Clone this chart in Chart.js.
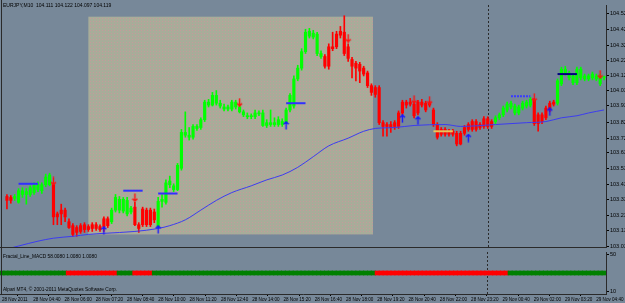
<!DOCTYPE html>
<html>
<head>
<meta charset="utf-8">
<script src="https://cdn.jsdelivr.net/npm/chart.js@4.4.1/dist/chart.umd.min.js"></script>
<style>
  html, body { margin: 0; padding: 0; background: #778899; }
  #wrap { position: relative; width: 625px; height: 303px; overflow: hidden; }
  canvas { position: absolute; left: 0; }
  #priceChart { top: 0; }
  #macdChart { top: 252px; }
</style>
</head>
<body>
<div id="wrap">
  <canvas id="priceChart" width="625" height="252"></canvas>
  <canvas id="macdChart" width="625" height="51"></canvas>
</div>
<script>
// EURJPY M10, 28 Nov 2011 03:20 -> 29 Nov 2011 05:00
const symbolTitle = 'EURJPY,M10  104.111 104.122 104.097 104.119';
const macdTitle = 'Fractal_Line_MACD 58.0080 1.0080 1.0080';
const copyright = 'Alpari MT4, \u00a9 2001-2011 MetaQuotes Software Corp.';

const timeTicks = ['28 Nov 2011', '28 Nov 04:40', '28 Nov 06:00', '28 Nov 07:20', '28 Nov 08:40',
  '28 Nov 10:00', '28 Nov 11:20', '28 Nov 12:40', '28 Nov 14:00', '28 Nov 15:20', '28 Nov 16:40',
  '28 Nov 18:00', '28 Nov 19:20', '28 Nov 20:40', '28 Nov 22:00', '28 Nov 23:20', '29 Nov 00:40',
  '29 Nov 02:00', '29 Nov 03:20', '29 Nov 04:40'];
const priceTicks = [104.520, 104.420, 104.320, 104.220, 104.125, 104.030, 103.935, 103.825,
  103.725, 103.635, 103.530, 103.430, 103.335, 103.230, 103.135, 103.035];
const macdTicks = [50, 10];

const openPrices = [
  103.354, 103.348, 103.342, 103.317, 103.367, 103.367, 103.367, 103.379, 103.398, 103.391,
  103.429, 103.429, 103.429, 103.243, 103.267, 103.267, 103.193, 103.168, 103.156, 103.168,
  103.174, 103.162, 103.174, 103.174, 103.162, 103.212, 103.212, 103.193, 103.267, 103.267,
  103.261, 103.243, 103.255, 103.286, 103.174, 103.274, 103.267, 103.267, 103.255, 103.162,
  103.323, 103.317, 103.429, 103.398, 103.398, 103.534, 103.745, 103.732, 103.732, 103.788,
  103.794, 103.844, 103.937, 103.937, 103.949, 103.931, 103.912, 103.912, 103.912, 103.925,
  103.894, 103.875, 103.863, 103.863, 103.863, 103.881, 103.807, 103.807, 103.813, 103.813,
  103.813, 103.813, 103.825, 103.906, 103.931, 104.104, 104.173, 104.278, 104.377, 104.371,
  104.266, 104.247, 104.247, 104.309, 104.309, 104.390, 104.408, 104.402, 104.309, 104.228,
  104.204, 104.197, 104.173, 104.142, 104.061, 104.049, 104.049, 103.825, 103.813, 103.813,
  103.825, 103.887, 103.956, 103.956, 103.956, 103.943, 103.956, 103.956, 103.949, 103.949,
  103.906, 103.813, 103.782, 103.782, 103.770, 103.770, 103.757, 103.757, 103.794, 103.813,
  103.832, 103.832, 103.813, 103.850, 103.850, 103.832, 103.832, 103.856, 103.875, 103.906,
  103.925, 103.887, 103.887, 103.918, 103.931, 103.937, 103.968, 103.875, 103.875, 103.918,
  103.949, 103.956, 103.949, 104.073, 104.142, 104.111, 104.080, 104.080, 104.111, 104.104,
  104.104, 104.111, 104.104, 104.073, 104.111];
const highPrices = [
  103.367, 103.360, 103.367, 103.404, 103.410, 103.404, 103.422, 103.441, 103.447, 103.441,
  103.497, 103.503, 103.441, 103.255, 103.305, 103.280, 103.212, 103.181, 103.168, 103.181,
  103.187, 103.174, 103.187, 103.187, 103.174, 103.224, 103.224, 103.280, 103.367, 103.354,
  103.348, 103.348, 103.292, 103.317, 103.187, 103.286, 103.280, 103.280, 103.274, 103.348,
  103.367, 103.460, 103.484, 103.435, 103.565, 103.782, 103.894, 103.794, 103.813, 103.813,
  103.856, 103.968, 103.974, 104.018, 104.030, 103.968, 103.943, 103.937, 103.968, 103.968,
  103.943, 103.906, 103.887, 103.881, 103.906, 103.900, 103.906, 103.844, 103.906, 103.856,
  103.863, 103.850, 103.918, 104.011, 104.123, 104.191, 104.297, 104.421, 104.427, 104.414,
  104.402, 104.284, 104.259, 104.328, 104.402, 104.408, 104.439, 104.507, 104.328, 104.241,
  104.216, 104.210, 104.185, 104.154, 104.073, 104.061, 104.061, 103.838, 103.825, 103.832,
  103.838, 103.900, 103.968, 103.968, 103.980, 103.956, 103.968, 103.974, 103.962, 103.962,
  103.918, 103.825, 103.794, 103.794, 103.782, 103.782, 103.770, 103.770, 103.807, 103.825,
  103.844, 103.844, 103.825, 103.863, 103.863, 103.844, 103.869, 103.887, 103.931, 103.956,
  103.962, 103.943, 103.937, 103.962, 103.968, 103.987, 103.980, 103.887, 103.887, 103.931,
  103.962, 103.968, 104.104, 104.179, 104.185, 104.154, 104.135, 104.179, 104.179, 104.135,
  104.135, 104.148, 104.135, 104.135, 104.122];
const lowPrices = [
  103.274, 103.311, 103.329, 103.311, 103.348, 103.305, 103.354, 103.367, 103.385, 103.373,
  103.416, 103.422, 103.174, 103.174, 103.174, 103.193, 103.150, 103.100, 103.100, 103.119,
  103.125, 103.131, 103.131, 103.137, 103.131, 103.131, 103.156, 103.181, 103.255, 103.249,
  103.249, 103.230, 103.243, 103.168, 103.125, 103.162, 103.162, 103.162, 103.187, 103.156,
  103.286, 103.305, 103.410, 103.385, 103.391, 103.522, 103.732, 103.714, 103.720, 103.776,
  103.782, 103.832, 103.925, 103.931, 103.937, 103.918, 103.900, 103.900, 103.900, 103.912,
  103.887, 103.863, 103.850, 103.850, 103.850, 103.869, 103.801, 103.794, 103.801, 103.801,
  103.801, 103.801, 103.819, 103.894, 103.918, 104.092, 104.160, 104.266, 104.365, 104.359,
  104.253, 104.235, 104.173, 104.166, 104.284, 104.297, 104.365, 104.253, 104.216, 104.111,
  104.092, 104.080, 104.123, 104.049, 103.999, 103.987, 103.813, 103.739, 103.739, 103.763,
  103.782, 103.788, 103.875, 103.918, 103.931, 103.856, 103.875, 103.925, 103.894, 103.925,
  103.801, 103.720, 103.739, 103.739, 103.739, 103.739, 103.677, 103.683, 103.745, 103.770,
  103.770, 103.770, 103.782, 103.788, 103.788, 103.788, 103.819, 103.844, 103.863, 103.894,
  103.912, 103.875, 103.875, 103.906, 103.918, 103.925, 103.807, 103.770, 103.819, 103.844,
  103.894, 103.931, 103.937, 104.061, 104.129, 104.098, 104.067, 104.067, 104.098, 104.092,
  104.092, 104.098, 104.092, 104.061, 104.097];
const closePrices = [
  103.329, 103.329, 103.354, 103.391, 103.391, 103.385, 103.410, 103.429, 103.429, 103.429,
  103.478, 103.491, 103.224, 103.224, 103.243, 103.224, 103.156, 103.112, 103.125, 103.131,
  103.143, 103.143, 103.150, 103.150, 103.143, 103.162, 103.168, 103.267, 103.348, 103.336,
  103.336, 103.329, 103.280, 103.174, 103.150, 103.174, 103.174, 103.174, 103.205, 103.323,
  103.336, 103.441, 103.453, 103.422, 103.553, 103.763, 103.763, 103.745, 103.801, 103.801,
  103.844, 103.956, 103.956, 103.999, 103.999, 103.949, 103.925, 103.925, 103.956, 103.956,
  103.925, 103.894, 103.869, 103.869, 103.887, 103.887, 103.887, 103.825, 103.825, 103.825,
  103.844, 103.832, 103.906, 103.999, 104.104, 104.173, 104.278, 104.402, 104.408, 104.396,
  104.390, 104.266, 104.185, 104.185, 104.297, 104.309, 104.383, 104.266, 104.235, 104.185,
  104.173, 104.154, 104.135, 104.061, 104.018, 104.005, 103.825, 103.801, 103.801, 103.794,
  103.801, 103.801, 103.887, 103.937, 103.943, 103.869, 103.887, 103.937, 103.906, 103.937,
  103.813, 103.732, 103.751, 103.751, 103.751, 103.751, 103.689, 103.689, 103.757, 103.782,
  103.782, 103.782, 103.794, 103.801, 103.801, 103.801, 103.856, 103.875, 103.918, 103.943,
  103.949, 103.931, 103.925, 103.949, 103.956, 103.974, 103.819, 103.819, 103.832, 103.856,
  103.906, 103.943, 104.092, 104.166, 104.166, 104.142, 104.123, 104.166, 104.166, 104.123,
  104.123, 104.135, 104.123, 104.123, 104.119];

// moving average read at [bar, price]
const maPoints = [[0, 103.019], [3, 103.038], [8, 103.069], [12, 103.088], [17, 103.100],
  [21, 103.112], [25, 103.119], [33, 103.131], [39, 103.150], [42, 103.168], [46, 103.205],
  [50, 103.267], [54, 103.329], [58, 103.379], [63, 103.422], [67, 103.460], [71, 103.491],
  [75, 103.540], [79, 103.608], [83, 103.677], [88, 103.726], [92, 103.770], [95, 103.788],
  [100, 103.794], [105, 103.807], [113, 103.813], [117, 103.801], [126, 103.813],
  [134, 103.825], [139, 103.832], [143, 103.856], [147, 103.869], [150, 103.887], [154, 103.906]];

// fractal levels: [from bar, to bar, price]
const fractalLevels = [[3, 8, 103.435], [30, 35, 103.391], [39, 44, 103.373], [72, 77, 103.949],
  [110, 115, 103.770], [130, 135, 103.993], [142, 147, 104.135]];
const fractalColors = ['#3030ff', '#3030ff', '#3030ff', '#3030ff', '#e8c45a', '#3a3aff', '#000080'];

const downArrows = [[12, 103.453], [33, 103.348], [60, 103.956], [88, 104.365], [105, 103.974],
  [109, 103.968], [136, 103.987], [153, 104.135]];
const upArrows = [[25, 103.137], [39, 103.143], [72, 103.807], [102, 103.850], [106, 103.838],
  [119, 103.726], [140, 103.894]];

// shaded rectangle object: bars and prices
const boxBars = [21, 94.4];
const boxPrices = [104.501, 103.112];

const separatorBar = 124;

// MACD state runs: [first bar, last bar, 1 = green / -1 = red]
const macdRuns = [[0, 16, 1], [17, 29, -1], [30, 33, 1], [34, 38, -1], [39, 95, 1], [96, 129, -1], [130, 154, 1]];
const macdBand = [27.8, 32.2];

const BG = '#778899';
const FONT = '"Liberation Sans", Arial, sans-serif';

const barIndex = openPrices.map((_, i) => i);
const candleColor = openPrices.map((o, i) => closePrices[i] >= o ? '#00ff00' : '#ff0000');
const macdColor = [];
macdRuns.forEach(([a, b, s]) => { for (let i = a; i <= b; i++) macdColor[i] = s > 0 ? '#008000' : '#ff0000'; });

function arrowGlyph(color, up) {
  const c = document.createElement('canvas');
  c.width = 7; c.height = 9;
  const g = c.getContext('2d');
  g.strokeStyle = color;
  g.lineWidth = 1.4;
  g.beginPath();
  g.moveTo(3.5, 0.5); g.lineTo(3.5, 8.5);
  if (up) { g.moveTo(1, 3.2); g.lineTo(3.5, 0.8); g.lineTo(6, 3.2); }
  else { g.moveTo(1, 5.8); g.lineTo(3.5, 8.2); g.lineTo(6, 5.8); }
  g.stroke();
  return c;
}

function boxPattern(ctx) {
  const c = document.createElement('canvas');
  c.width = 3; c.height = 3;
  const g = c.getContext('2d');
  g.fillStyle = '#a8ac99';
  g.fillRect(0, 0, 3, 3);
  g.fillStyle = '#c6999b';
  g.fillRect(0, 0, 1, 1);
  return ctx.createPattern(c, 'repeat');
}

function separator(chart) {
  const { ctx, chartArea, scales } = chart;
  const x = Math.round(scales.x.getPixelForValue(separatorBar)) + 0.5;
  ctx.save();
  ctx.strokeStyle = '#2a2a2a';
  ctx.lineWidth = 1;
  ctx.setLineDash([2, 2]);
  ctx.beginPath();
  ctx.moveTo(x, chartArea.top);
  ctx.lineTo(x, chartArea.bottom);
  ctx.stroke();
  ctx.restore();
}

// keep the plot area edge to edge: no extra room for the end labels
function noLabelPadding(s) {
  s.paddingTop = 0;
  s.paddingBottom = 0;
  s.paddingLeft = 0;
  s.paddingRight = 0;
}

const pricePanel = {
  id: 'pricePanel',
  beforeDraw(chart) {
    const ctx = chart.ctx;
    ctx.save();
    ctx.fillStyle = BG;
    ctx.fillRect(0, 0, chart.width, chart.height);
    ctx.restore();
  },
  beforeDatasetsDraw(chart) {
    const { ctx, scales: { x, y } } = chart;
    const x1 = x.getPixelForValue(boxBars[0]);
    const x2 = x.getPixelForValue(boxBars[1]);
    const y1 = y.getPixelForValue(boxPrices[0]);
    const y2 = y.getPixelForValue(boxPrices[1]);
    ctx.save();
    ctx.fillStyle = boxPattern(ctx);
    ctx.fillRect(x1, y1, x2 - x1, y2 - y1);
    ctx.restore();
    separator(chart);
  },
  afterDraw(chart) {
    const { ctx, chartArea } = chart;
    ctx.save();
    ctx.strokeStyle = '#2a2a2a';
    ctx.lineWidth = 1;
    ctx.beginPath();
    ctx.moveTo(1.5, 0); ctx.lineTo(1.5, chart.height);
    ctx.moveTo(0, chartArea.bottom + 0.5); ctx.lineTo(chartArea.right, chartArea.bottom + 0.5);
    ctx.stroke();
    ctx.fillStyle = '#000';
    ctx.font = '5px ' + FONT;
    ctx.textBaseline = 'middle';
    ctx.fillText(symbolTitle, 3, 6);
    ctx.restore();
  }
};

const macdPanel = {
  id: 'macdPanel',
  beforeDraw: pricePanel.beforeDraw,
  beforeDatasetsDraw(chart) { separator(chart); },
  afterDraw(chart) {
    const { ctx, chartArea } = chart;
    ctx.save();
    ctx.strokeStyle = '#2a2a2a';
    ctx.lineWidth = 1;
    ctx.beginPath();
    ctx.moveTo(1.5, 0); ctx.lineTo(1.5, chartArea.bottom);
    ctx.stroke();
    ctx.fillStyle = '#000';
    ctx.font = '4.8px ' + FONT;
    ctx.textBaseline = 'middle';
    ctx.fillText(macdTitle, 3, 5);
    ctx.fillText(copyright, 3, 38);
    ctx.restore();
  }
};

const axisTicks = { color: '#000', font: { family: FONT, size: 5.5 }, padding: 1, autoSkip: false };

new Chart(document.getElementById('priceChart'), {
  type: 'bar',
  data: {
    labels: barIndex,
    datasets: [
      {
        label: 'wick',
        data: lowPrices.map((l, i) => [l, highPrices[i]]),
        backgroundColor: candleColor,
        barThickness: 1,
        grouped: false,
        order: 5
      },
      {
        label: 'body',
        data: openPrices.map((o, i) => [o, closePrices[i]]),
        backgroundColor: candleColor,
        barThickness: 2.5,
        minBarLength: 1,
        grouped: false,
        order: 4
      },
      {
        type: 'line',
        label: 'MA',
        data: maPoints.map(([x, y]) => ({ x, y })),
        borderColor: '#3c3cf0',
        borderWidth: 1,
        pointRadius: 0,
        cubicInterpolationMode: 'monotone',
        order: 3
      },
      ...fractalLevels.map((f, k) => ({
        type: 'line',
        label: 'level' + k,
        data: [{ x: f[0], y: f[2] }, { x: f[1], y: f[2] }],
        borderColor: fractalColors[k],
        borderWidth: 2,
        borderDash: k === 5 ? [2, 1] : [],
        pointRadius: 0,
        order: 2
      })),
      {
        type: 'line',
        label: 'down',
        data: downArrows.map(([x, y]) => ({ x, y })),
        showLine: false,
        pointStyle: arrowGlyph('#ff1010', false),
        pointRadius: 4,
        order: 1
      },
      {
        type: 'line',
        label: 'up',
        data: upArrows.map(([x, y]) => ({ x, y })),
        showLine: false,
        pointStyle: arrowGlyph('#1818ff', true),
        pointRadius: 4,
        order: 1
      }
    ]
  },
  options: {
    responsive: false,
    animation: false,
    events: [],
    layout: { padding: { top: 2, bottom: 1, left: 0, right: 0 } },
    plugins: { legend: { display: false }, tooltip: { enabled: false } },
    scales: {
      x: { display: false, offset: true },
      y: {
        position: 'right',
        min: 103.0318,
        max: 104.5756,
        afterBuildTicks: s => { s.ticks = priceTicks.map(v => ({ value: v })); },
        afterFit: s => { s.width = 19; noLabelPadding(s); },
        ticks: { ...axisTicks, callback: v => v.toFixed(3) },
        grid: { drawOnChartArea: false, color: '#000', tickLength: 3 },
        border: { color: '#2a2a2a' }
      }
    }
  },
  plugins: [pricePanel]
});

new Chart(document.getElementById('macdChart'), {
  type: 'bar',
  data: {
    labels: barIndex,
    datasets: [{
      label: 'macd',
      data: barIndex.map(() => macdBand),
      backgroundColor: macdColor,
      barThickness: 4.4,
      grouped: false
    }]
  },
  options: {
    responsive: false,
    animation: false,
    events: [],
    layout: { padding: 0 },
    plugins: { legend: { display: false }, tooltip: { enabled: false } },
    scales: {
      x: {
        offset: true,
        afterBuildTicks: s => { s.ticks = s.ticks.filter(t => t.value % 8 === 0); },
        afterFit: s => { s.height = 9; noLabelPadding(s); },
        ticks: {
          ...axisTicks,
          font: { family: FONT, size: 4.6 },
          maxRotation: 0,
          minRotation: 0,
          align: 'start',
          callback: v => timeTicks[v / 8]
        },
        grid: { drawOnChartArea: false, color: '#000', tickLength: 2 },
        border: { color: '#2a2a2a' }
      },
      y: {
        position: 'right',
        min: 7,
        max: 53,
        afterBuildTicks: s => { s.ticks = macdTicks.map(v => ({ value: v })); },
        afterFit: s => { s.width = 19; noLabelPadding(s); },
        ticks: { ...axisTicks, callback: v => String(v) },
        grid: { drawOnChartArea: false, color: '#000', tickLength: 3 },
        border: { color: '#2a2a2a' }
      }
    }
  },
  plugins: [macdPanel]
});
</script>
</body>
</html>
